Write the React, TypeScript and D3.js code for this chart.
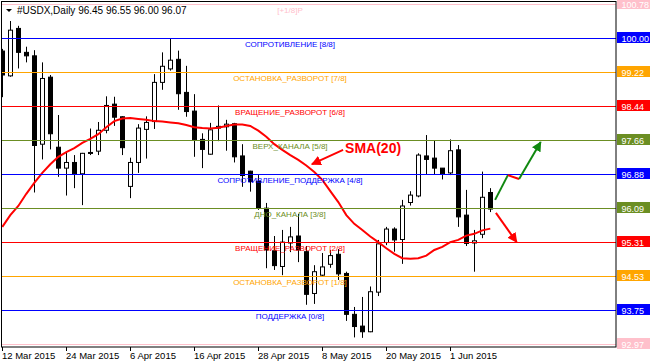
import React from 'react';
import * as d3 from 'd3';

// Daily bars, 12 Mar 2015 .. 8 Jun 2015
const dates = [
  '2015-03-12', '2015-03-13', '2015-03-16', '2015-03-17', '2015-03-18', '2015-03-19', '2015-03-20', '2015-03-23',
  '2015-03-24', '2015-03-25', '2015-03-26', '2015-03-27', '2015-03-30', '2015-03-31', '2015-04-01', '2015-04-02',
  '2015-04-06', '2015-04-07', '2015-04-08', '2015-04-09', '2015-04-10', '2015-04-13', '2015-04-14', '2015-04-15',
  '2015-04-16', '2015-04-17', '2015-04-20', '2015-04-21', '2015-04-22', '2015-04-23', '2015-04-24', '2015-04-27',
  '2015-04-28', '2015-04-29', '2015-04-30', '2015-05-01', '2015-05-04', '2015-05-05', '2015-05-06', '2015-05-07',
  '2015-05-08', '2015-05-11', '2015-05-12', '2015-05-13', '2015-05-14', '2015-05-15', '2015-05-18', '2015-05-19',
  '2015-05-20', '2015-05-21', '2015-05-22', '2015-05-25', '2015-05-26', '2015-05-27', '2015-05-28', '2015-05-29',
  '2015-06-01', '2015-06-02', '2015-06-03', '2015-06-04', '2015-06-05', '2015-06-08',
];
const opens = [
  99.70, 99.13, 100.22, 99.67, 99.59, 97.56, 99.10, 97.49, 97.01, 97.14, 96.88, 97.35, 97.40, 97.88, 98.48, 98.19,
  96.59, 97.14, 97.90, 98.08, 98.98, 99.29, 99.51, 98.75, 98.32, 97.67, 97.33, 97.93, 97.96, 98.03, 97.29, 96.94,
  96.71, 96.09, 95.11, 94.75, 95.29, 95.45, 95.09, 94.13, 94.55, 94.80, 95.03, 94.59, 93.65, 93.38, 93.25, 94.16,
  95.30, 95.61, 95.37, 96.22, 96.37, 97.29, 97.24, 97.01, 96.90, 97.43, 95.93, 95.29, 95.49, 96.45,
];
const highs = [
  99.75, 100.39, 100.28, 99.80, 99.72, 99.44, 99.15, 98.23, 97.36, 97.31, 97.36, 97.92, 98.07, 98.66, 98.65, 98.20,
  97.25, 98.02, 98.20, 99.17, 99.67, 99.99, 99.71, 99.36, 98.71, 97.81, 98.05, 98.45, 98.12, 98.05, 97.56, 96.95,
  96.85, 96.21, 95.45, 95.59, 95.66, 95.96, 95.22, 94.78, 95.06, 95.13, 95.15, 94.63, 93.82, 94.05, 94.29, 95.36,
  95.66, 95.65, 96.28, 96.48, 97.35, 97.77, 97.64, 97.01, 97.67, 97.54, 96.51, 95.59, 96.93, 96.55,
];
const lows = [
  98.64, 99.11, 99.30, 99.44, 96.45, 97.21, 97.44, 96.81, 96.38, 96.55, 96.16, 97.31, 97.31, 97.81, 97.98, 97.31,
  96.32, 96.90, 97.23, 97.91, 98.81, 99.25, 98.35, 98.19, 97.27, 97.01, 97.32, 97.63, 97.41, 97.14, 96.58, 96.47,
  96.05, 94.71, 94.67, 94.55, 95.08, 94.85, 93.87, 93.89, 94.51, 94.72, 94.44, 93.50, 93.12, 93.11, 93.24, 94.07,
  95.24, 95.09, 94.81, 96.15, 96.34, 96.87, 96.87, 96.75, 96.85, 95.66, 95.22, 94.63, 95.40, 96.00,
];
const closes = [
  99.15, 100.18, 99.67, 99.59, 97.53, 99.07, 97.80, 97.01, 97.14, 96.88, 97.35, 97.37, 97.88, 98.45, 98.18, 97.48,
  97.14, 97.93, 98.06, 98.98, 99.35, 99.49, 98.72, 98.31, 97.66, 97.44, 97.89, 97.97, 98.02, 97.27, 96.84, 96.70,
  96.09, 95.13, 94.77, 95.31, 95.43, 95.13, 94.11, 94.63, 94.74, 95.00, 94.58, 93.65, 93.37, 93.25, 94.17, 95.27,
  95.61, 95.36, 96.14, 96.39, 97.31, 97.21, 97.01, 96.88, 97.41, 95.89, 95.28, 95.34, 96.34, 96.07,
];
const sma20 = [
  95.66, 95.93, 96.14, 96.42, 96.67, 96.90, 97.10, 97.27, 97.38, 97.47, 97.59, 97.68, 97.79, 97.95, 98.09, 98.15,
  98.16, 98.14, 98.12, 98.09, 98.08, 98.06, 98.04, 98.00, 97.95, 97.93, 97.92, 97.94, 97.98, 98.01, 98.01, 97.98,
  97.87, 97.73, 97.56, 97.43, 97.31, 97.20, 97.07, 96.92, 96.74, 96.48, 96.23, 95.93, 95.73, 95.59, 95.44, 95.31,
  95.17, 95.04, 94.94, 94.93, 94.94, 95.00, 95.13, 95.20, 95.31, 95.36, 95.46, 95.50, 95.58, 95.62,
];

const levelValues = [100.78125, 100, 99.21875, 98.4375, 97.65625, 96.875, 96.09375, 95.3125, 94.53125, 93.75, 92.96875];
// the [-1/8] label falls below the plot and is hidden, as in the terminal
const levelNames = [
  '[+1/8]P', 'СОПРОТИВЛЕНИЕ [8/8]', 'ОСТАНОВКА_РАЗВОРОТ [7/8]', 'ВРАЩЕНИЕ_РАЗВОРОТ [6/8]', 'ВЕРХ_КАНАЛА [5/8]',
  'СОПРОТИВЛЕНИЕ_ПОДДЕРЖКА [4/8]', 'ДНО_КАНАЛА [3/8]', 'ВРАЩЕНИЕ_РАЗВОРОТ [2/8]', 'ОСТАНОВКА_РАЗВОРОТ [1/8]',
  'ПОДДЕРЖКА [0/8]', '',
];
const levelColors = ['#FFC0CB', '#0000FF', '#FFA500', '#FF0000', '#6B8E23', '#0000FF', '#6B8E23', '#FF0000', '#FFA500', '#0000FF', '#FFC0CB'];

const xTickDates = ['2015-03-12', '2015-03-24', '2015-04-06', '2015-04-16', '2015-04-28', '2015-05-08', '2015-05-20', '2015-06-01'];
const xTickLabels = ['12 Mar 2015', '24 Mar 2015', '6 Apr 2015', '16 Apr 2015', '28 Apr 2015', '8 May 2015', '20 May 2015', '1 Jun 2015'];

// hand-drawn forecast arrows, [bar index, price]
const upPath: [number, number][] = [[61.6, 96.28], [63.2, 96.85], [64.6, 96.76], [67.3, 97.61]];
const downPath: [number, number][] = [[61.7, 95.98], [64.3, 95.31]];
const smaPointer: [number, number][] = [[42.6, 97.43], [38.7, 97.10]];

const W = 650;
const H = 363;
const left = 2, right = 616, top = 2, bottom = 347;
const font = '"Liberation Sans", Arial, sans-serif';

export default function App() {
  const x = d3.scaleLinear().domain([0, dates.length - 1]).range([2.3, 490.3]);
  const y = d3.scaleLinear().domain([92.96875, 100.78125]).range([344, 4]);

  const smaLine = d3.line<number>().x((_, i) => x(i)).y(d => y(d));
  const pathLine = d3.line<[number, number]>().x(d => x(d[0])).y(d => y(d[1]));

  const bw = 2;

  return (
    <svg width={W} height={H} style={{ position: 'absolute', left: 0, top: 0, background: '#fff' }}>
      <defs>
        <clipPath id="plot">
          <rect x={left} y={top} width={right - left} height={bottom - top} />
        </clipPath>
        <marker id="headRed" viewBox="0 0 10 10" refX="9" refY="5" markerWidth="5" markerHeight="5" orient="auto" markerUnits="strokeWidth">
          <path d="M0,0 L10,5 L0,10 z" fill="#FF0000" />
        </marker>
        <marker id="headGreen" viewBox="0 0 10 10" refX="9" refY="5" markerWidth="5" markerHeight="5" orient="auto" markerUnits="strokeWidth">
          <path d="M0,0 L10,5 L0,10 z" fill="#108810" />
        </marker>
      </defs>
      <rect width={W} height={H} fill="#fff" />

      <g clipPath="url(#plot)">
        {/* candles */}
        {dates.map((d, i) => {
          const o = opens[i], c = closes[i];
          const up = c >= o;
          const y0 = y(Math.max(o, c)), y1 = y(Math.min(o, c));
          const cx = Math.round(x(i)) + 0.5;
          return (
            <g key={d}>
              <line x1={cx} x2={cx} y1={y(highs[i])} y2={y(lows[i])} stroke="#000" strokeWidth={1} />
              <rect x={cx - bw} y={y0} width={bw * 2} height={Math.max(1, y1 - y0)}
                fill={up ? '#fff' : '#000'} stroke="#000" strokeWidth={1} />
            </g>
          );
        })}

        <path d={smaLine(sma20) || ''} fill="none" stroke="#FF0000" strokeWidth={2} />

        {/* murrey levels */}
        {levelValues.map((v, i) => (
          <g key={'l' + i}>
            <line x1={left} x2={right} y1={Math.round(y(v)) + 0.5} y2={Math.round(y(v)) + 0.5} stroke={levelColors[i]} strokeWidth={1} />
            {levelNames[i] && (
              <text x={290} y={y(v) + 8.5} fontSize={8} fontFamily={font} fill={levelColors[i]} textAnchor="middle">
                {levelNames[i]}
              </text>
            )}
          </g>
        ))}

        <path d={pathLine(upPath.slice(0, 2)) || ''} fill="none" stroke="#108810" strokeWidth={2} />
        <path d={pathLine(upPath.slice(1, 3)) || ''} fill="none" stroke="#FF0000" strokeWidth={2} />
        <path d={pathLine(upPath.slice(2)) || ''} fill="none" stroke="#108810" strokeWidth={2} markerEnd="url(#headGreen)" />
        <path d={pathLine(downPath) || ''} fill="none" stroke="#FF0000" strokeWidth={2} markerEnd="url(#headRed)" />
        <path d={pathLine(smaPointer) || ''} fill="none" stroke="#FF0000" strokeWidth={2} markerEnd="url(#headRed)" />
        <text x={x(42.85)} y={y(97.36)} fontSize={14} fontWeight="bold" fontFamily={font} fill="#FF0000">SMA(20)</text>
      </g>

      {/* frame */}
      <rect x={left - 0.5} y={top - 0.5} width={right - left + 0.5} height={bottom - top + 0.5} fill="none" stroke="#000" strokeWidth={1} />

      {/* header */}
      <path d="M6,9 L12,9 L9,12 z" fill="#000" />
      <text x={17} y={14} fontSize={10} fontFamily={font} fill="#000">
        #USDX,Daily  96.45 96.55 96.00 96.07
      </text>

      {/* time axis */}
      {xTickDates.map((d, k) => {
        const tx = Math.round(x(dates.indexOf(d))) + 0.5;
        return (
          <g key={d}>
            <line x1={tx} x2={tx} y1={bottom} y2={bottom + 4} stroke="#000" />
            <text x={tx - 0.5} y={359} fontSize={9.5} fontFamily={font} fill="#000">{xTickLabels[k]}</text>
          </g>
        );
      })}

      {/* price boxes */}
      {levelValues.map((v, i) => (
        <g key={'b' + i}>
          <rect x={617} y={y(v) - 6} width={33} height={11} fill={levelColors[i]} />
          <text x={621.5} y={y(v) + 3.5} fontSize={9} fontFamily={font} fill="#fff">{v.toFixed(2)}</text>
        </g>
      ))}
    </svg>
  );
}
